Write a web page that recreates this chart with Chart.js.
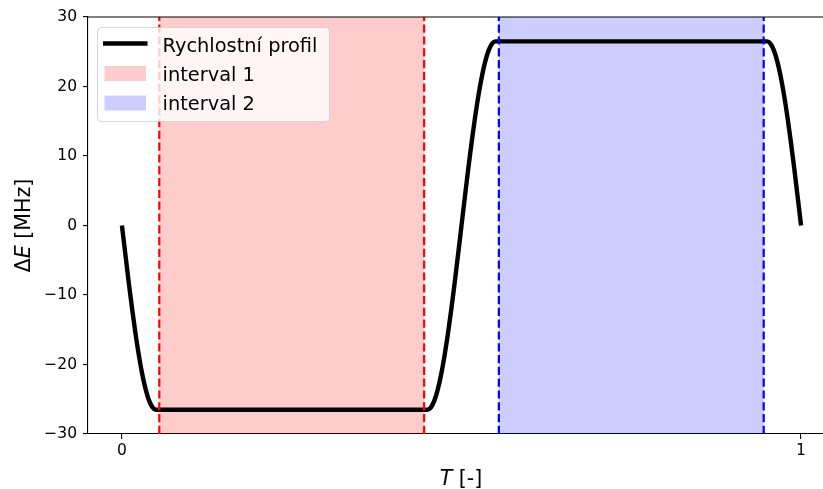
<!DOCTYPE html>
<html><head><meta charset="utf-8">
<script src="https://cdn.jsdelivr.net/npm/chart.js@4.4.1/dist/chart.umd.min.js"></script>
<style>
html,body{margin:0;padding:0;overflow:hidden;background:#fff;width:823px;height:489px}
#wrap{width:836px;height:489px}
canvas{display:block}
</style></head><body><div id="wrap"><canvas id="c" width="836" height="489"></canvas></div>
<script>
// ---- data ----
const timePoints = [
  0, 0.005, 0.01, 0.015, 0.02, 0.025, 0.03, 0.035, 0.04, 0.045, 0.05,
  0.45, 0.455, 0.46, 0.465, 0.47, 0.475, 0.48, 0.485, 0.49, 0.495, 0.5,
  0.505, 0.51, 0.515, 0.52, 0.525, 0.53, 0.535, 0.54, 0.545, 0.55,
  0.95, 0.955, 0.96, 0.965, 0.97, 0.975, 0.98, 0.985, 0.99, 0.995, 1.0
];
const profileValues = [
  0, -4.15, -8.19, -12.03, -15.58, -18.74, -21.44, -23.61, -25.2, -26.17, -26.5,
  -26.5, -26.17, -25.2, -23.61, -21.44, -18.74, -15.58, -12.03, -8.19, -4.15, 0,
  4.15, 8.19, 12.03, 15.58, 18.74, 21.44, 23.61, 25.2, 26.17, 26.5,
  26.5, 26.17, 25.2, 23.61, 21.44, 18.74, 15.58, 12.03, 8.19, 4.15, 0
];
const interval1 = [0.055, 0.445];
const interval2 = [0.555, 0.945];
const xTickValues = [0, 1];
const yTickValues = [-30, -20, -10, 0, 10, 20, 30];
const seriesLabel = 'Rychlostní profil';
const intervalLabels = ['interval 1', 'interval 2'];

const FONT = '"DejaVu Sans", sans-serif';

const spanPlugin = {
  id: 'spans',
  beforeDatasetsDraw(chart) {
    const {ctx, chartArea: a, scales: {x}} = chart;
    ctx.save();
    [[interval1, 'rgba(255,0,0,0.2)'], [interval2, 'rgba(0,0,255,0.2)']].forEach(([iv, col]) => {
      const x0 = x.getPixelForValue(iv[0]), x1 = x.getPixelForValue(iv[1]);
      ctx.fillStyle = col;
      ctx.fillRect(x0, a.top, x1 - x0, a.bottom - a.top);
    });
    ctx.restore();
  },
  afterDatasetsDraw(chart) {
    const {ctx, chartArea: a, scales: {x}} = chart;
    ctx.save();
    ctx.lineWidth = 2.2;
    ctx.setLineDash([8.2, 3.6]);
    [[interval1, '#ff0000'], [interval2, '#0000ff']].forEach(([iv, col]) => {
      iv.forEach(v => {
        const px = x.getPixelForValue(v);
        ctx.strokeStyle = col;
        ctx.beginPath();
        ctx.moveTo(px, a.bottom);
        ctx.lineTo(px, a.top);
        ctx.stroke();
      });
    });
    ctx.restore();
  },
  afterDraw(chart) {
    const {ctx, chartArea: a} = chart;
    ctx.save();
    // top spine
    ctx.strokeStyle = '#000';
    ctx.lineWidth = 1.1;
    ctx.beginPath();
    ctx.moveTo(a.left, a.top);
    ctx.lineTo(a.right, a.top);
    ctx.lineTo(a.right, a.bottom);
    ctx.stroke();

    // axis titles with italic symbols
    function drawPieces(pieces, cx, baseline, rotate) {
      ctx.save();
      ctx.translate(cx, baseline);
      if (rotate) ctx.rotate(-Math.PI / 2);
      let total = 0;
      pieces.forEach(p => { ctx.font = p.f; p.w = ctx.measureText(p.t).width; total += p.w; });
      let xx = -total / 2;
      ctx.fillStyle = '#000';
      ctx.textBaseline = 'alphabetic';
      ctx.textAlign = 'left';
      pieces.forEach(p => { ctx.font = p.f; ctx.fillText(p.t, xx, 0); xx += p.w; });
      ctx.restore();
    }
    const sz = 20.6;
    drawPieces([
      {t: 'Δ', f: `${sz}px ${FONT}`},
      {t: 'E', f: `italic ${sz}px ${FONT}`},
      {t: ' [MHz]', f: `${sz}px ${FONT}`}
    ], 30, (a.top + a.bottom) / 2, true);
    drawPieces([
      {t: 'T', f: `italic ${sz}px ${FONT}`},
      {t: ' [-]', f: `${sz}px ${FONT}`}
    ], 461, 485, false);

    // legend
    const lx = 97.5, ly = 27.5, lw = 232, lh = 94, r = 4;
    ctx.beginPath();
    ctx.moveTo(lx + r, ly);
    ctx.lineTo(lx + lw - r, ly); ctx.quadraticCurveTo(lx + lw, ly, lx + lw, ly + r);
    ctx.lineTo(lx + lw, ly + lh - r); ctx.quadraticCurveTo(lx + lw, ly + lh, lx + lw - r, ly + lh);
    ctx.lineTo(lx + r, ly + lh); ctx.quadraticCurveTo(lx, ly + lh, lx, ly + lh - r);
    ctx.lineTo(lx, ly + r); ctx.quadraticCurveTo(lx, ly, lx + r, ly);
    ctx.closePath();
    ctx.fillStyle = 'rgba(255,255,255,0.8)';
    ctx.fill();
    ctx.strokeStyle = 'rgba(204,204,204,0.8)';
    ctx.lineWidth = 1;
    ctx.stroke();

    ctx.strokeStyle = '#000';
    ctx.lineWidth = 4.4;
    ctx.beginPath();
    ctx.moveTo(103, 43.5); ctx.lineTo(147.5, 43.5);
    ctx.stroke();
    ctx.fillStyle = 'rgba(255,0,0,0.2)';
    ctx.fillRect(104.5, 66, 41.5, 15);
    ctx.fillStyle = 'rgba(0,0,255,0.2)';
    ctx.fillRect(104.5, 95.5, 41.5, 15);

    ctx.fillStyle = '#000';
    ctx.font = `19.4px ${FONT}`;
    ctx.textBaseline = 'alphabetic';
    ctx.textAlign = 'left';
    ctx.fillText(seriesLabel, 162.5, 52);
    ctx.fillText(intervalLabels[0], 162.5, 81.3);
    ctx.fillText(intervalLabels[1], 162.5, 110);
    ctx.restore();
  }
};

const fmt = v => (v < 0 ? '\u2212' + Math.abs(v) : String(v));

new Chart(document.getElementById('c'), {
  type: 'line',
  data: {
    datasets: [{
      label: seriesLabel,
      data: timePoints.map((t, i) => ({x: t, y: profileValues[i]})),
      borderColor: '#000',
      borderWidth: 4.4,
      pointRadius: 0,
      fill: false,
      cubicInterpolationMode: 'monotone',
      borderCapStyle: 'butt',
      borderJoinStyle: 'round'
    }]
  },
  options: {
    responsive: false,
    animation: false,
    devicePixelRatio: 1,
    layout: {padding: {top: 17, right: 1, left: 0, bottom: 0}},
    plugins: {legend: {display: false}, tooltip: {enabled: false}},
    scales: {
      x: {
        type: 'linear',
        min: -0.05, max: 1.05,
        afterBuildTicks: s => { s.ticks = xTickValues.map(v => ({value: v})); },
        afterFit: s => { s.height = 55; },
        ticks: {color: '#000', font: {family: FONT, size: 15.5}, padding: 3, callback: v => fmt(v), maxRotation: 0},
        grid: {display: true, drawOnChartArea: false, drawTicks: true, tickLength: 5, color: '#000', lineWidth: 1.1},
        border: {display: true, color: '#000', width: 1.1}
      },
      y: {
        type: 'linear',
        min: -30, max: 30,
        afterBuildTicks: s => { s.ticks = yTickValues.map(v => ({value: v})); },
        afterFit: s => { s.width = 88; },
        ticks: {color: '#000', font: {family: FONT, size: 15.5}, padding: 6, callback: v => fmt(v)},
        grid: {display: true, drawOnChartArea: false, drawTicks: true, tickLength: 5, color: '#000', lineWidth: 1.1},
        border: {display: true, color: '#000', width: 1.1}
      }
    }
  },
  plugins: [spanPlugin]
});
</script></body></html>
